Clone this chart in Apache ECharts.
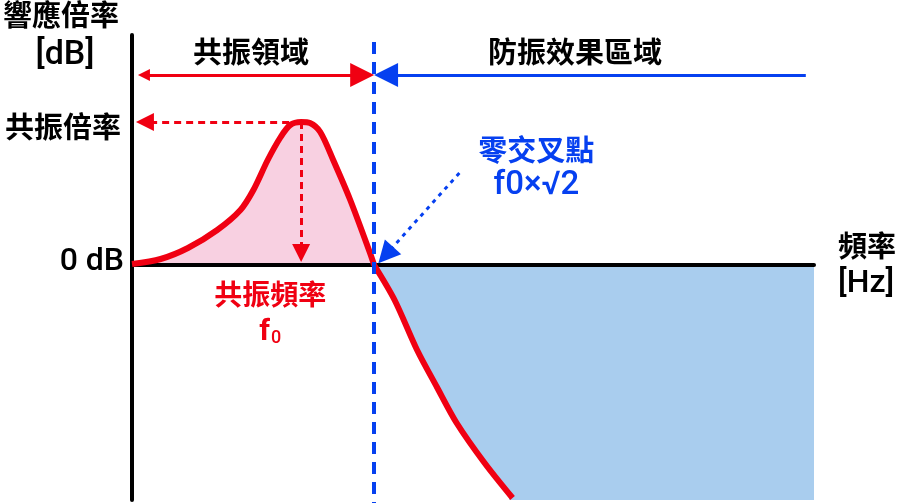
<!DOCTYPE html>
<html>
<head>
<meta charset="utf-8">
<script src="https://cdn.jsdelivr.net/npm/echarts@6/dist/echarts.min.js"></script>
<style>
  html, body { margin: 0; padding: 0; background: #fff; }
  #chart { width: 899px; height: 503px; }
</style>
</head>
<body>
<div id="chart"></div>
<script>
// response curve (frequency in arbitrary units, gain in dB)
const freq = [0, 4.2, 8.2, 12.5, 15.9, 17.8, 19.9, 21.8, 23.2, 24.8, 26.1, 27.6, 29.5, 32.0, 34.9, 35.5,
              38.5, 41.8, 44.7, 47.6, 51.7, 55.8];
const gain = [0.1, 0.6, 1.7, 3.5, 5.5, 7.5, 10.5, 12.8, 14.0, 14.3, 14.2, 13.3, 10.5, 6.5, 1.2, 0,
              -3.5, -8.5, -12.2, -15.8, -19.8, -23.3];

const F0 = 24.8;        // resonance frequency
const PEAK_DB = 14.3;   // resonance magnification
const CROSS = 35.5;     // f0 x sqrt(2), zero crossing
const X_MAX = 100;
const Y_MIN = -23.5;
const Y_MAX = 23;
const REGION_Y = 19;    // level of the region arrows
const REGION_END = 98.8;

const RED = '#f00012';
const BLUE = '#0640f0';
const FONT = '"Noto Sans CJK TC", "Noto Sans", sans-serif';
const LATIN = 'Roboto, "Liberation Sans", sans-serif';

const curve = freq.map((f, i) => [f, gain[i]]);
const crossIdx = gain.indexOf(0);
const upper = curve.slice(0, crossIdx + 1);
const lower = curve.slice(crossIdx);
const last = curve[curve.length - 1];
const floor = [[last[0] - 0.5, Y_MIN], [X_MAX, Y_MIN]];

let chart = echarts.init(document.getElementById('chart'));

const axisStyle = { lineStyle: { color: '#000', width: 4 } };

function fill(data, color) {
  return {
    type: 'line', data: data, smooth: 0.3, symbol: 'none', z: 1, silent: true,
    lineStyle: { width: 0 },
    areaStyle: { color: color, opacity: 1, origin: 0 }
  };
}

function curveLine(data) {
  return {
    type: 'line', data: data, smooth: 0.3, symbol: 'none', z: 3, silent: true,
    lineStyle: { color: RED, width: 6 }
  };
}

chart.setOption({
  animation: false,
  grid: { left: 131, right: 83, top: 35, bottom: 3 },
  xAxis: {
    type: 'value', min: 0, max: X_MAX, z: 2,
    axisLine: axisStyle,
    axisTick: { show: false }, axisLabel: { show: false }, splitLine: { show: false },
    name: '{a|頻率}\n{b|[Hz]}',
    nameLocation: 'end',
    nameGap: 24,
    nameTextStyle: {
      align: 'left',
      rich: {
        a: { fontFamily: FONT, fontSize: 29, fontWeight: 'bold', color: '#000', lineHeight: 38 },
        b: { fontFamily: LATIN, fontSize: 32, fontWeight: 500, color: '#000', lineHeight: 38 }
      }
    }
  },
  yAxis: {
    type: 'value', min: Y_MIN, max: Y_MAX, z: 2,
    axisLine: axisStyle,
    axisTick: { show: false }, axisLabel: { show: false }, splitLine: { show: false },
    name: '{a|響應倍率}\n{b|[dB]}',
    nameLocation: 'end',
    nameGap: -40,
    nameTextStyle: {
      align: 'center',
      padding: [0, 142, 0, 0],
      rich: {
        a: { fontFamily: FONT, fontSize: 29, fontWeight: 'bold', color: '#000', lineHeight: 40 },
        b: { fontFamily: LATIN, fontSize: 34, fontWeight: 500, color: '#000', lineHeight: 40, padding: [0, 0, 0, 8] }
      }
    }
  },
  series: [
    fill(upper, '#f8d0e1'),
    fill(lower, '#a9cdee'),
    Object.assign(fill(floor, '#a9cdee'), { smooth: false }),
    curveLine(upper),
    curveLine(lower),
    {
      // crossing dashed line
      type: 'lines', coordinateSystem: 'cartesian2d', z: 4, clip: false, silent: true,
      lineStyle: { color: BLUE, width: 4, type: [12, 8], opacity: 1 },
      data: [{ coords: [[CROSS, 22.3], [CROSS, -23.8]] }]
    },
    {
      // resonance region arrow
      type: 'lines', coordinateSystem: 'cartesian2d', z: 5, clip: false, silent: true,
      symbol: ['triangle', 'triangle'], symbolSize: [12, 24],
      lineStyle: { color: RED, width: 3, opacity: 1 },
      data: [{ coords: [[1.75, REGION_Y], [CROSS - 1.75, REGION_Y]] }]
    },
    {
      // isolation region arrow
      type: 'lines', coordinateSystem: 'cartesian2d', z: 5, clip: false, silent: true,
      symbol: ['none', 'triangle'], symbolSize: [12, 24],
      lineStyle: { color: BLUE, width: 3, opacity: 1 },
      data: [{ coords: [[REGION_END, REGION_Y], [CROSS + 1.75, REGION_Y]] }]
    },
    {
      // peak guides
      type: 'lines', coordinateSystem: 'cartesian2d', z: 5, clip: false, silent: true,
      symbol: ['none', 'triangle'], symbolSize: [20, 18],
      lineStyle: { color: RED, width: 3, type: [7, 5], opacity: 1 },
      data: [
        { coords: [[F0, PEAK_DB], [1.9, PEAK_DB]] },
        { coords: [[F0, PEAK_DB], [F0, 1.2]] }
      ]
    },
    {
      // pointer to the crossing point
      type: 'lines', coordinateSystem: 'cartesian2d', z: 5, clip: false, silent: true,
      symbol: ['none', 'triangle'], symbolSize: [18, 22],
      lineStyle: { color: BLUE, width: 3, type: [4, 5], opacity: 1 },
      data: [{ coords: [[48.0, 9.2], [37.2, 1.0]] }]
    },
    {
      // text annotations
      type: 'scatter', symbolSize: 0, z: 6, silent: true, clip: false,
      itemStyle: { opacity: 1 },
      label: { show: true, position: 'inside', opacity: 1, fontFamily: FONT, fontSize: 29, fontWeight: 'bold', color: '#000' },
      data: [
        { value: [0, PEAK_DB], label: { position: 'left', distance: 11, offset: [0, 5], formatter: '共振倍率' } },
        { value: [0, 0], label: { position: 'left', distance: 8, offset: [0, -3], formatter: '0 dB',
            fontWeight: 500, fontSize: 32, fontFamily: LATIN } },
        { value: [CROSS / 2, REGION_Y], label: { offset: [-2, -23], formatter: '共振領域' } },
        { value: [(CROSS + REGION_END) / 2, REGION_Y], label: { offset: [-15, -23], formatter: '防振效果區域' } },
        { value: [48.0, 9.2], label: {
            offset: [77, -5], color: BLUE,
            formatter: '{a|零交叉點}\n{b|f0×√2}',
            rich: {
              a: { fontFamily: FONT, fontSize: 29, fontWeight: 'bold', color: BLUE, lineHeight: 36 },
              b: { fontFamily: LATIN, fontSize: 33, fontWeight: 500, color: BLUE, lineHeight: 36 }
            } } },
        { value: [F0, 0], label: {
            offset: [-31, 48], color: RED,
            formatter: '{a|共振頻率}\n{f|f}{s|0}',
            rich: {
              a: { fontFamily: FONT, fontSize: 28, fontWeight: 'bold', color: RED, lineHeight: 38 },
              f: { fontFamily: LATIN, fontSize: 30, fontWeight: 'bold', color: RED, lineHeight: 38 },
              s: { fontFamily: LATIN, fontSize: 18, fontWeight: 500, color: RED, lineHeight: 38, verticalAlign: 'bottom', padding: [0, 0, 4, 1] }
            } } }
      ]
    }
  ]
});

window.addEventListener('resize', () => chart.resize());
</script>
</body>
</html>
